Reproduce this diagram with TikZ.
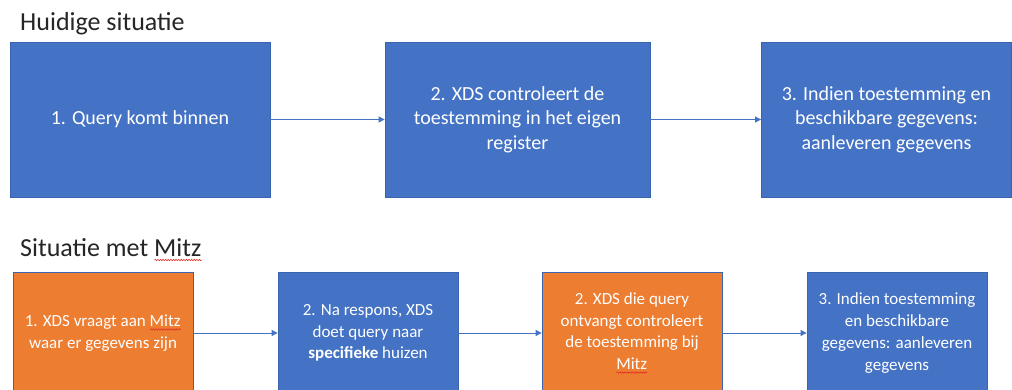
\documentclass[tikz,border=0pt]{standalone}
\usepackage{fontspec}
\setmainfont{Carlito}
\usetikzlibrary{arrows.meta,decorations.pathmorphing}
\definecolor{boxblue}{HTML}{4472C4}
\definecolor{boxorange}{HTML}{ED7D31}
\definecolor{edgeblue}{HTML}{3A64AE}
\definecolor{squig}{HTML}{E0302A}
\newlength\sqwidth
\newcommand\spellerr[1]{\settowidth\sqwidth{#1}#1\hspace{-\sqwidth}\tikz[baseline=0pt]{%
  \draw[squig, line width=0.6pt, decorate, decoration={snake, amplitude=0.7pt, segment length=2.6pt}]
    (0pt,-3pt) -- (\sqwidth,-3pt);}}
\tikzset{
  topbox/.style={draw=edgeblue, line width=0.8pt, fill=boxblue, text=white,
    minimum width=260pt, minimum height=155pt, align=center, inner sep=0pt,
    font=\fontsize{20}{24.4}\selectfont},
  botbox/.style={draw=edgeblue, line width=0.8pt, fill=boxblue, text=white,
    minimum width=180pt, minimum height=122pt, align=center, inner sep=0pt,
    font=\fontsize{17}{21.8}\selectfont},
  orangebox/.style={fill=boxorange},
  flow/.style={draw=boxblue, line width=0.8pt, -{Triangle[length=6pt,width=6pt]}},
  heading/.style={anchor=base west, inner sep=0pt, font=\fontsize{26}{30}\selectfont, text=black!85}
}
\begin{document}
\begin{tikzpicture}[x=1pt,y=-1pt]
\useasboundingbox (0,0) rectangle (1012,390);
\clip (0,0) rectangle (1012,390);
\fill[white] (0,0) rectangle (1012,390);
\node[heading] (h1) at (20,31) {Huidige situatie};
\node[topbox] (t1) at (140,119.5) {1. Query komt binnen};
\node[topbox, minimum width=265pt] (t2) at (517.5,119.5) {2. XDS controleert de\\toestemming in het eigen\\register};
\node[topbox, minimum width=250pt] (t3) at (886.5,119.5) {3. Indien toestemming en\\beschikbare gegevens:\\aanleveren gegevens};
\draw[flow] (t1) -- (t2);
\draw[flow] (t2) -- (t3);
\node[heading] (h2) at (20,257) {Situatie met \spellerr{Mitz}};
\node[botbox, orangebox] (b1) at (103,333) {1. XDS vraagt aan \spellerr{Mitz}\\waar er gegevens zijn};
\node[botbox] (b2) at (368,333) {2. Na respons, XDS\\doet query naar\\\textbf{specifieke} huizen};
\node[botbox, orangebox] (b3) at (632,333) {2. XDS die query\\ontvangt controleert\\de toestemming bij\\\spellerr{Mitz}};
\node[botbox] (b4) at (897,333) {3. Indien toestemming\\en beschikbare\\gegevens: aanleveren\\gegevens};
\draw[flow] (b1) -- (b2);
\draw[flow] (b2) -- (b3);
\draw[flow] (b3) -- (b4);
\end{tikzpicture}
\end{document}
